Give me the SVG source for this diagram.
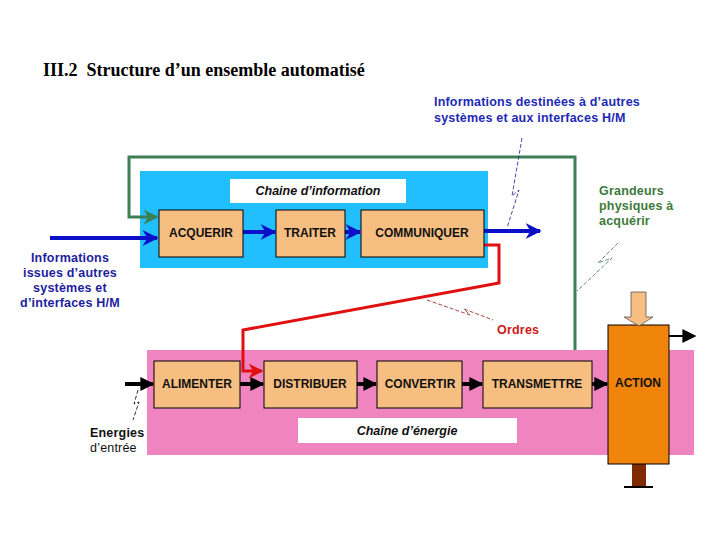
<svg xmlns="http://www.w3.org/2000/svg" width="720" height="540" viewBox="0 0 720 540">
<style>
.box{fill:#F7BE81;stroke:#000;stroke-width:1}
.lbl{font-family:"Liberation Sans",Arial,sans-serif;font-weight:bold;font-size:12px;text-anchor:middle;fill:#111}
.ttl{font-family:"Liberation Sans",Arial,sans-serif;font-weight:bold;font-style:italic;font-size:12.5px;text-anchor:middle;fill:#111}
.note{font-family:"Liberation Sans",Arial,sans-serif;font-weight:bold;font-size:12.5px;letter-spacing:0.2px}
.blue{stroke:#0A10C8;stroke-width:4;fill:none}
.blk{stroke:#000;stroke-width:4;fill:none}
.zig{fill:none;stroke-width:0.8;stroke-dasharray:4 2}
</style>
<defs>
<marker id="ab" viewBox="0 0 10 10" refX="9" refY="5" markerWidth="4" markerHeight="4" orient="auto" markerUnits="strokeWidth"><path d="M0,0 L10,5 L0,10 L3,5 z" fill="#0A10C8"/></marker>
<marker id="ak" viewBox="0 0 10 10" refX="9" refY="5" markerWidth="3.5" markerHeight="3.5" orient="auto" markerUnits="strokeWidth"><path d="M0,0 L10,5 L0,10 z" fill="#000"/></marker>
<marker id="ak2" viewBox="0 0 10 10" refX="9" refY="5" markerWidth="7" markerHeight="7" orient="auto" markerUnits="strokeWidth"><path d="M0,0 L10,5 L0,10 z" fill="#000"/></marker>
<marker id="ag" viewBox="0 0 10 10" refX="9" refY="5" markerWidth="5" markerHeight="5" orient="auto" markerUnits="strokeWidth"><path d="M0,0 L10,5 L0,10 L3,5 z" fill="#3D7F55"/></marker>
<marker id="ar" viewBox="0 0 10 10" refX="9" refY="5" markerWidth="5" markerHeight="5" orient="auto" markerUnits="strokeWidth"><path d="M0,0 L10,5 L0,10 L3,5 z" fill="#E01010"/></marker>
</defs>

<text x="43" y="76" font-family="Liberation Serif,'Times New Roman',serif" font-weight="bold" font-size="18" fill="#000" xml:space="preserve">III.2  Structure d’un ensemble automatisé</text>

<!-- backgrounds -->
<rect id="chaine-info" x="140" y="171" width="348" height="97" fill="#22BFFF"/>
<rect x="230" y="179" width="176" height="24" fill="#fff"/>
<text class="ttl" x="318" y="195">Chaine d’information</text>

<rect id="chaine-energie" x="147" y="350" width="547" height="105" fill="#EF84C1"/>
<rect x="298" y="418" width="219" height="25" fill="#fff"/>
<text class="ttl" x="407" y="435">Chaîne d’énergie</text>

<!-- connectors -->
<g id="connectors">
<polyline points="575,350 575,157 129,157 129,217 157,217" stroke="#3D7F55" stroke-width="3" fill="none" marker-end="url(#ag)"/>
<line class="blue" x1="50" y1="238" x2="157" y2="238" marker-end="url(#ab)"/>
<line class="blue" x1="243" y1="232" x2="275" y2="232" marker-end="url(#ab)"/>
<line class="blue" x1="345" y1="232" x2="360" y2="232" marker-end="url(#ab)"/>
<line class="blue" x1="484" y1="231" x2="540" y2="231" marker-end="url(#ab)"/>
<polyline points="484,245 499,245 499,283 243,330 243,371 262,371" stroke="#E01010" stroke-width="3" fill="none" marker-end="url(#ar)"/>
<line class="blk" x1="125" y1="384" x2="153" y2="384" marker-end="url(#ak)"/>
<line class="blk" x1="240" y1="384" x2="263" y2="384" marker-end="url(#ak)"/>
<line class="blk" x1="357" y1="384" x2="376" y2="384" marker-end="url(#ak)"/>
<line class="blk" x1="462" y1="384" x2="482" y2="384" marker-end="url(#ak)"/>
<line class="blk" x1="592" y1="384" x2="607" y2="384" marker-end="url(#ak)"/>
<line stroke="#000" stroke-width="2" x1="669" y1="336" x2="695" y2="336" marker-end="url(#ak2)"/>
<!-- lightning signs -->
<polyline class="zig" stroke="#1a1aa0" points="522,138 512,196 519,190 507,228"/>
<polyline class="zig" stroke="#3D6F55" points="618,243 598,263 612,258 577,291"/>
<polyline class="zig" stroke="#8B1a1a" points="427,300 470,315 464,309 493,320"/>
<polyline class="zig" stroke="#000" points="138,390 134,404 139,402 133,420"/>
</g>

<!-- nodes -->
<g id="acquerir"><rect class="box" x="159" y="210" width="84" height="47"/><text class="lbl" x="201" y="237">ACQUERIR</text></g>
<g id="traiter"><rect class="box" x="276" y="210" width="69" height="47"/><text class="lbl" x="310" y="237">TRAITER</text></g>
<g id="communiquer"><rect class="box" x="361" y="210" width="123" height="47"/><text class="lbl" x="422" y="237">COMMUNIQUER</text></g>

<g id="alimenter"><rect class="box" x="154" y="361" width="86" height="47"/><text class="lbl" x="197" y="388">ALIMENTER</text></g>
<g id="distribuer"><rect class="box" x="264" y="361" width="93" height="47"/><text class="lbl" x="310" y="388">DISTRIBUER</text></g>
<g id="convertir"><rect class="box" x="377" y="361" width="85" height="47"/><text class="lbl" x="420" y="388">CONVERTIR</text></g>
<g id="transmettre"><rect class="box" x="483" y="361" width="109" height="47"/><text class="lbl" x="537" y="388">TRANSMETTRE</text></g>

<g id="action">
<rect x="632" y="464" width="14" height="23" fill="#7F2A00"/>
<rect x="624" y="486" width="29" height="2" fill="#000"/>
<rect x="608" y="325" width="61" height="139" fill="#F0840A" stroke="#000" stroke-width="1"/>
<text class="lbl" x="638" y="387">ACTION</text>
<path d="M631,292 H646 V317 H653 L639,326 L624,317 H631 Z" fill="#F7BE81" stroke="#555" stroke-width="0.8"/>
</g>

<!-- notes -->
<g id="note-info-in" class="note" fill="#1E1EA0" text-anchor="middle">
<text x="70" y="262">Informations</text>
<text x="70" y="277">issues d’autres</text>
<text x="70" y="292">systèmes et</text>
<text x="70" y="307">d’interfaces H/M</text>
</g>
<g id="note-info-out" class="note" fill="#1E2AB4">
<text x="434" y="106">Informations destinées à d’autres</text>
<text x="434" y="122">systèmes et aux interfaces H/M</text>
</g>
<g id="note-grandeurs" class="note" fill="#3C7A3A">
<text x="599" y="195">Grandeurs</text>
<text x="599" y="210">physiques à</text>
<text x="599" y="225">acquérir</text>
</g>
<text id="note-ordres" class="note" fill="#D01818" x="497" y="334">Ordres</text>
<g id="note-energies" class="note" fill="#111">
<text x="90" y="437">Energies</text>
<text x="90" y="452" font-weight="normal">d’entrée</text>
</g>
</svg>
